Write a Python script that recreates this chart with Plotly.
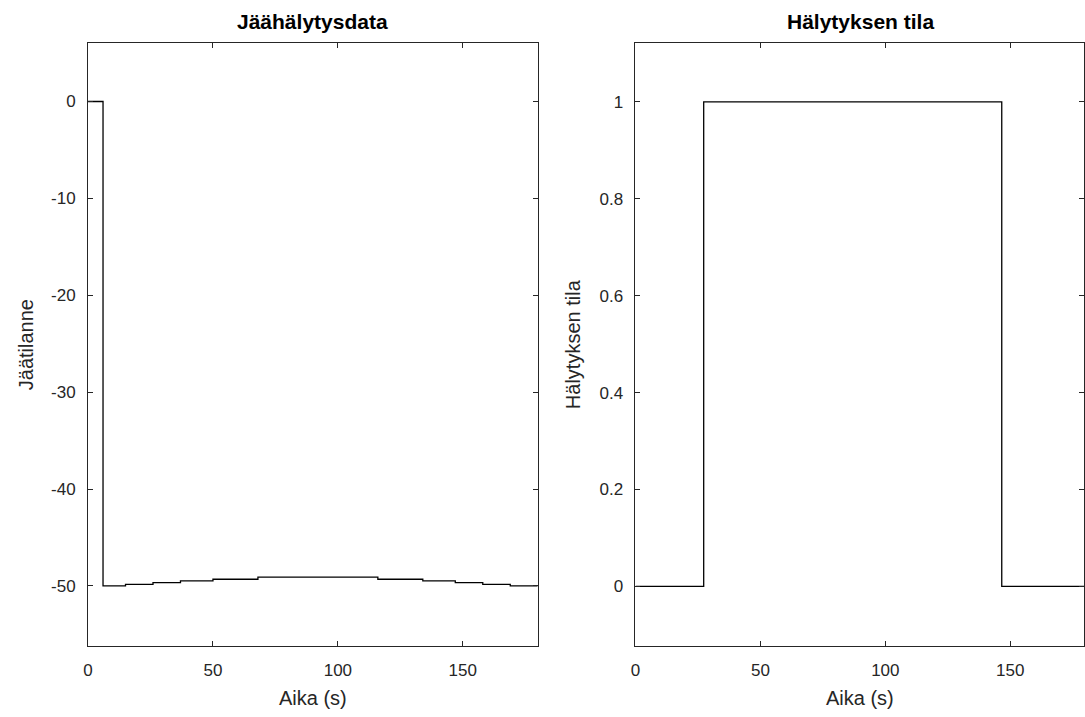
import plotly.graph_objects as go

W, H = 1085, 717

# ---- data ----
ice_time = [0, 6, 15, 26, 37, 50, 68, 116, 134, 147, 158, 169, 180]
ice_level = [0, -50.0, -49.83, -49.66, -49.48, -49.31, -49.1, -49.31, -49.48, -49.66, -49.83, -50.0, -50.0]

alarm_time = [0, 27.3, 146.6, 180]
alarm_state = [0, 1, 0, 0]

left_yticks = [0, -10, -20, -30, -40, -50]
left_yticktext = ["0", "-10", "-20", "-30", "-40", "-50"]
right_yticks = [0, 0.2, 0.4, 0.6, 0.8, 1]
right_yticktext = ["0", "0.2", "0.4", "0.6", "0.8", "1"]
xticks = [0, 50, 100, 150]
xticktext = ["0", "50", "100", "150"]

titles = ["Jäähälytysdata", "Hälytyksen tila"]
ylabels = ["Jäätilanne", "Hälytyksen tila"]
xlabel = "Aika (s)"

# ---- layout geometry (pixels) ----
L1, R1 = 83.5, 535.7
L2 = 634.0
PX_PER_UNIT = (R1 - L1) / 180.0
TOP, BOT = 42.7, 646.0

AX = "#262626"
FONT = "Liberation Sans, Arial, Helvetica, sans-serif"
TICK_SIZE = 17
LABEL_SIZE = 20
TITLE_SIZE = 21

fig = go.Figure()
fig.add_trace(go.Scatter(x=ice_time, y=ice_level, mode="lines", line=dict(shape="hv", color="black", width=1.3),
                         xaxis="x", yaxis="y", showlegend=False))
fig.add_trace(go.Scatter(x=alarm_time, y=alarm_state, mode="lines", line=dict(shape="hv", color="black", width=1.3),
                         xaxis="x2", yaxis="y2", showlegend=False))

ydom = [1 - BOT / H, 1 - TOP / H]
right_max = (W - L2) / PX_PER_UNIT

common = dict(showline=True, linecolor=AX, linewidth=1, mirror="ticks", ticks="inside", ticklen=5,
              tickcolor=AX, tickwidth=1, showgrid=False, zeroline=False,
              tickfont=dict(family=FONT, size=TICK_SIZE, color=AX))

fig.update_layout(
    width=W, height=H, margin=dict(l=0, r=0, t=0, b=0),
    paper_bgcolor="white", plot_bgcolor="white",
    xaxis=dict(domain=[L1 / W, R1 / W], range=[0, 180], tickvals=xticks, ticktext=xticktext, anchor="y",
               ticklabelstandoff=9, **common),
    yaxis=dict(domain=ydom, range=[-56.2, 6.07], tickvals=left_yticks, ticktext=left_yticktext, anchor="x",
               ticklabelstandoff=8, **common),
    xaxis2=dict(domain=[L2 / W, 1.0], range=[0, right_max], tickvals=xticks, ticktext=xticktext, anchor="y2",
                ticklabelstandoff=9, **common),
    yaxis2=dict(domain=ydom, range=[-0.123, 1.122], tickvals=right_yticks, ticktext=right_yticktext, anchor="x2",
                ticklabelstandoff=8, **common),
)

ann = []
for cx, t in [((L1 + R1) / 2, titles[0]), (L2 + (R1 - L1) / 2, titles[1])]:
    ann.append(dict(text="<b>%s</b>" % t, x=cx / W, y=1 - 22 / H, xref="paper", yref="paper", showarrow=False,
                    xanchor="center", yanchor="middle", font=dict(family=FONT, size=TITLE_SIZE, color="black")))
for cx in [(L1 + R1) / 2, L2 + (R1 - L1) / 2]:
    ann.append(dict(text=xlabel, x=cx / W, y=1 - 698 / H, xref="paper", yref="paper", showarrow=False,
                    xanchor="center", yanchor="middle", font=dict(family=FONT, size=LABEL_SIZE, color=AX)))
for cx, t in [(21, ylabels[0]), (572, ylabels[1])]:
    ann.append(dict(text=t, x=cx / W, y=1 - ((TOP + BOT) / 2) / H, xref="paper", yref="paper", showarrow=False,
                    textangle=-90, xanchor="center", yanchor="middle",
                    font=dict(family=FONT, size=LABEL_SIZE, color=AX)))
fig.update_layout(annotations=ann)

fig.write_html("out.html")
